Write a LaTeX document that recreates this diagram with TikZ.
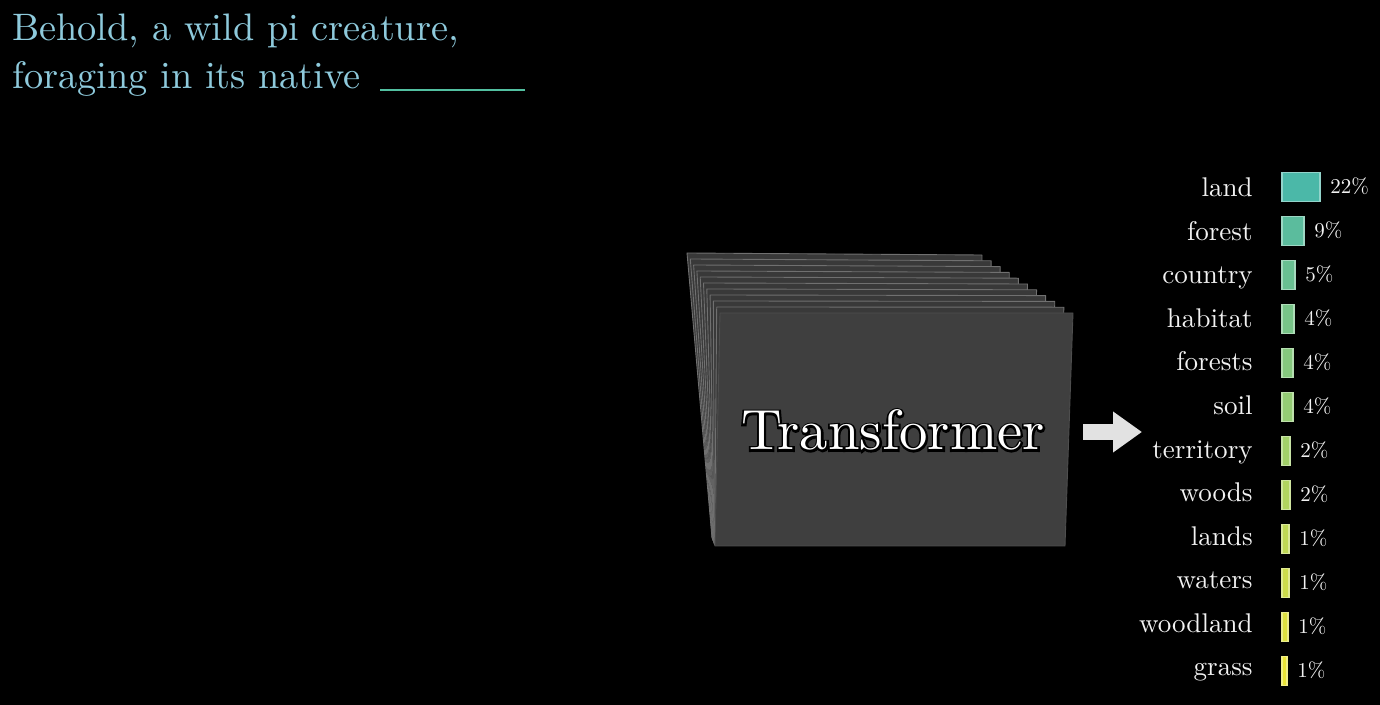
\documentclass[tikz,border=0pt]{standalone}
\usepackage{fontspec}
\setmainfont{lmroman10-regular.otf}
\newfontfamily\outlinefont[FakeBold=7]{lmroman10-regular.otf}
\usepackage{xcolor}
\usepackage{tikz}
\usetikzlibrary{arrows.meta,positioning}
\definecolor{captionblue}{HTML}{8ECADC}
\definecolor{blankgreen}{HTML}{52BFA0}
\definecolor{slabfill}{HTML}{393939}
\definecolor{slabedge}{HTML}{707070}
\definecolor{arrowgray}{HTML}{E2E2E2}
\definecolor{barteal}{HTML}{4BB8A8}
\definecolor{baryellow}{HTML}{EAE436}
\definecolor{wordwhite}{HTML}{F2F2F2}

% texte blanc avec contour noir
\newcommand{\haloword}[1]{\makebox[0pt][l]{\outlinefont\color{black}#1}#1}

\tikzset{
  caption/.style={text=captionblue, inner sep=0pt, font=\fontsize{21.8}{26}\selectfont},
  blankline/.style={draw=blankgreen, line width=1.1pt},
  slab/.style={fill=slabfill, draw=slabedge, line width=0.5pt, line join=round},
  slabfront/.style={fill=slabfill!97!white, draw=slabedge!70!black, line width=0.5pt},
  tftext/.style={text=white, inner sep=0pt, font=\fontsize{32.3}{38}\selectfont},
  bigarrow/.style={arrowgray, line width=0.32cm, -{Triangle[length=0.58cm, width=0.78cm]}},
  word/.style={text=wordwhite, inner sep=0pt, font=\fontsize{15.4}{18}\selectfont},
  pct/.style={text=wordwhite, inner sep=0pt, font=\fontsize{12}{14}\selectfont},
  bar/.style={inner sep=0pt, outer sep=0pt, minimum height=0.58cm, line width=0.6pt}
}

\begin{document}
\begin{tikzpicture}[x=0.02cm, y=-0.02cm]
  % Fond
  \fill[black] (0,0) rectangle (1380,705);
  \useasboundingbox (0,0) rectangle (1380,705);

  % Phrase a completer
  \node[caption, anchor=base west] (phrase1) at (12,41) {Behold, a wild pi creature,};
  \node[caption, anchor=base west] (phrase2) at (12,89) {foraging in its native};
  \coordinate (blankL) at (380,90);
  \coordinate (blankR) at (525,90);
  \draw[blankline] (blankL) -- (blankR);

  % Pile de couches du transformer (de l'arriere vers l'avant)
  \foreach \k in {10,...,1}{
    \pgfmathsetmacro\tlx{720-3.3*\k}
    \pgfmathsetmacro\tly{313-6*\k}
    \pgfmathsetmacro\trx{1073-9.1*\k}
    \pgfmathsetmacro\try{313-5.8*\k}
    \pgfmathsetmacro\brx{1065-8.5*\k}
    \pgfmathsetmacro\bry{546-1.5*\k}
    \pgfmathsetmacro\blx{715-0.3*\k}
    \pgfmathsetmacro\bly{546-0.8*\k}
    \filldraw[slab] (\tlx,\tly) -- (\trx,\try) -- (\brx,\bry) -- (\blx,\bly) -- cycle;
  }
  \filldraw[slabfront] (720,313) -- (1073,313) -- (1065,546) -- (715,546) -- cycle;
  \node[tftext, anchor=base] (tf) at (893,450) {\haloword{Transformer}};

  % Fleche vers les predictions
  \coordinate (arrowtail) at (1083,432);
  \coordinate (arrowtip) at (1142,432);
  \draw[bigarrow] (arrowtail) -- (arrowtip);

  % Distribution des mots suivants
  \foreach \word/\w/\pc [count=\i from 0] in {land/38/22, forest/22/9, country/13/5,
      habitat/12/4, forests/11/4, soil/11/4, territory/8/2, woods/8/2,
      lands/7/1, waters/7/1, woodland/6/1, grass/5/1}{
    \pgfmathsetmacro\yc{187+44*\i}
    \pgfmathsetmacro\yw{193+43.55*\i}
    \pgfmathtruncatemacro\mix{100-100*\i/11}
    \colorlet{barcol}{barteal!\mix!baryellow}
    \node[word, anchor=mid east] (word\i) at (1253,\yw) {\word};
    \node[bar, minimum width=\w*0.02cm, fill=barcol, draw=barcol!60!white] (bar\i) at (1282+\w/2,\yc) {};
    \node[pct, right=0.2cm of bar\i, anchor=mid west, yshift=-0.05cm] (pct\i) {\pc\%};
  }
\end{tikzpicture}
\end{document}
